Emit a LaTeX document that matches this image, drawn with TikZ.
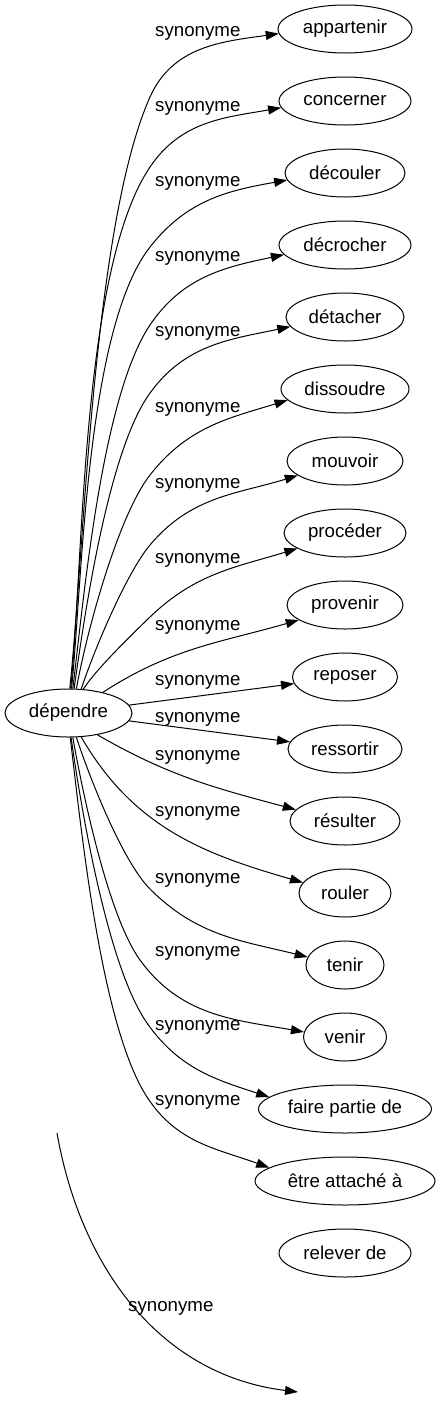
\documentclass[tikz,border=0pt]{standalone}
\usepackage{fontspec}
\setmainfont{Liberation Sans}
\usetikzlibrary{positioning,shapes.geometric,arrows.meta}
\tikzset{>={Triangle[length=13pt,width=9pt]}}
\tikzset{word/.style={draw,ellipse,line width=1pt,minimum height=48pt,inner sep=0pt},
  lbl/.style={inner sep=0pt,anchor=west},
  syn/.style={->,line width=1pt}}

\begin{document}
\begin{tikzpicture}[x=1pt,y=1pt,font=\fontsize{18.7}{22}\selectfont]
\useasboundingbox (0,0) rectangle (440,-1427);
\node[word,minimum width=127pt] (dep) at (68.5,-713) {dépendre};
% the synonyms, one under the other
\foreach \n/\t/\y/\w in {app/appartenir/29/134, conc/concerner/101/132,
  decou/découler/173/120, decro/décrocher/245/132, deta/détacher/317/118,
  diss/dissoudre/389/128, mouv/mouvoir/461/116, proc/procéder/533/122,
  prov/provenir/605/116, repo/reposer/677/105, ress/ressortir/749/114,
  resu/résulter/821/110, roul/rouler/893/92, teni/tenir/965/78,
  veni/venir/1037/83, fair/faire partie de/1109/173,
  etre/être attaché à/1181/180, rele/relever de/1253/132}
  \node[word,minimum width=\w pt] (\n) at (345,-\y) {\t};
\foreach \y [count=\i] in {33,108,183,258,333,409,485,560,627,682,719,757,813,880,953,1027,1102}
  \node[lbl] (l\i) at (155,-\y) {synonyme};
\node[lbl] (l18) at (128,-1308) {synonyme};
\draw[syn] (dep.87) to[out=84,in=246,looseness=.6] (150,-97) to[out=66,in=188] (app.184);
\draw[syn] (dep.85) to[out=84,in=236,looseness=.6] (150,-167) to[out=56,in=190] (conc.186);
\draw[syn] (dep.83) to[out=84,in=232,looseness=.6] (150,-247) to[out=52,in=190] (decou.187);
\draw[syn] (dep.80) to[out=83,in=236,looseness=.6] (150,-325) to[out=56,in=192] (decro.189);
\draw[syn] (dep.77) to[out=82,in=234,looseness=.6] (150,-393) to[out=54,in=192] (deta.190);
\draw[syn] (dep.72) to[out=80,in=232,looseness=.6] (150,-475) to[out=52,in=197] (diss.191);
\draw[syn] (dep.62) to[out=72,in=230,looseness=.6] (150,-545) to[out=50,in=197] (mouv.197);
\draw[syn] (dep.58) to[out=58,in=224,looseness=.6] (150,-617) to[out=44,in=197] (proc.198);
\draw[syn] (dep.31) to[out=33,in=196] (prov.198);
\draw[syn] (dep) -- (repo);
\draw[syn] (dep) -- (ress);
\draw[syn] (dep.-37) to[out=-30,in=165] (resu.167);
\draw[syn] (dep.-62) to[out=-60,in=164] (roul.166);
\draw[syn] (dep.-72) to[out=-72,in=135,looseness=.6] (150,-889) to[out=-45,in=166] (teni.168);
\draw[syn] (dep.-80) to[out=-80,in=126,looseness=.6] (140,-960) to[out=-54,in=170] (veni.173);
\draw[syn] (dep.-84) to[out=-82,in=125,looseness=.6] (147,-1023) to[out=-55,in=162] (fair.171);
\draw[syn] (dep.-86) to[out=-83,in=123,looseness=.6] (147,-1097) to[out=-57,in=160] (etre.170);
% loose edge at the bottom
\coordinate (brk) at (57,-1133);
\coordinate (brkend) at (298,-1392);
\draw[syn] (brk) to[out=-80,in=173] (brkend);
\end{tikzpicture}
\end{document}
